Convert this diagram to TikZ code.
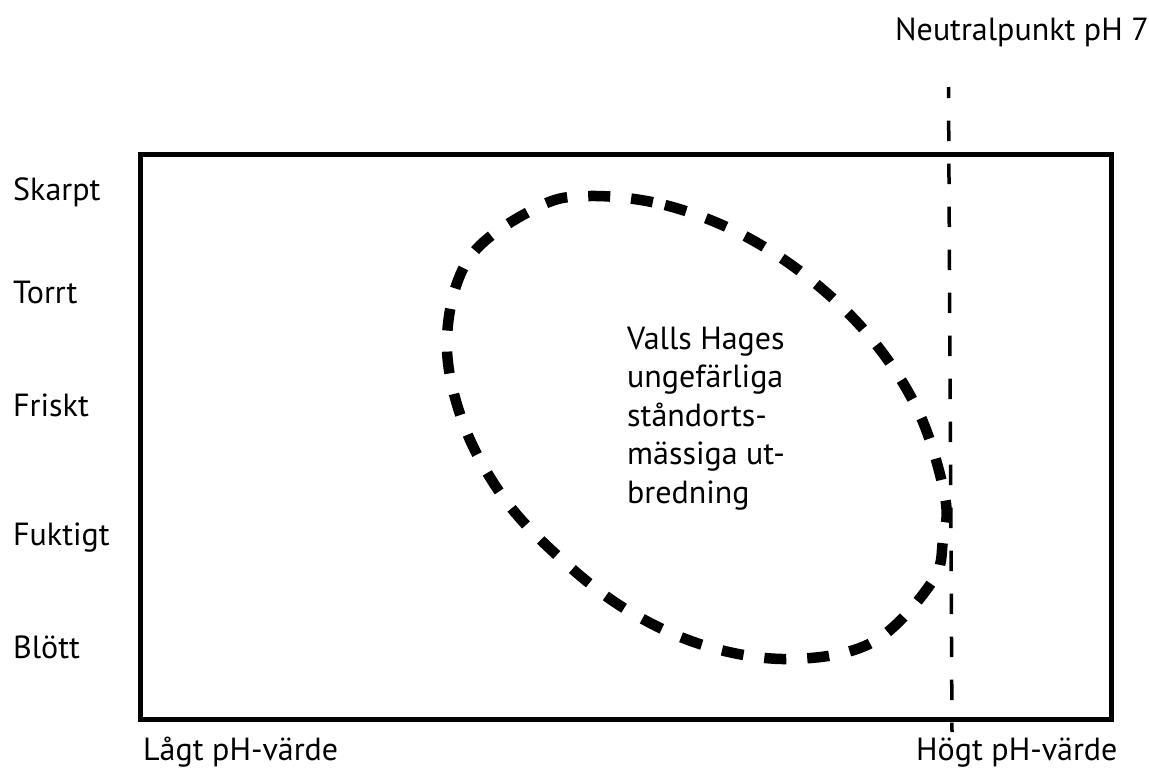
\documentclass[tikz,border=0pt]{standalone}
\usepackage{fontspec}
\setmainfont{PT Sans}
\begin{document}
\begin{tikzpicture}[x=1pt,y=-1pt,
  lbl/.style={anchor=base west,inner sep=0pt,font=\fontsize{32}{38.5}\selectfont},
  frame/.style={line width=5pt},
  neutral/.style={line width=3.5pt,dash pattern=on 20.5pt off 22.5pt,dash phase=9.3pt},
  region/.style={line width=10.5pt,dash pattern=on 22pt off 21pt}]
\useasboundingbox (0,0) rectangle (1149,769);
\draw[frame] (140.5,154) rectangle (1111,719);
\coordinate (ntop) at (948.5,87);
\coordinate (nbot) at (952,732);
\draw[neutral] (ntop) -- (nbot);
\draw[region] plot[smooth cycle,tension=0.6] coordinates {
 (590,196) (665,205) (743,235) (815,283) (875,343) (920,415) (945,497)
 (943,540) (932,582) (873,642) (791,659) (706,646) (627,610) (560,558)
 (503,497) (462,420) (447,337) (470,257) (538,207)};
\node[lbl] (skarpt) at (13,200) {Skarpt};
\node[lbl] (torrt) at (13,303) {Torrt};
\node[lbl] (friskt) at (13,416) {Friskt};
\node[lbl] (fuktigt) at (13,545) {Fuktigt};
\node[lbl] (blott) at (13,658) {Blött};
\node[lbl] (lagt) at (143,760) {Lågt pH-värde};
\node[lbl] (hogt) at (916,760) {Högt pH-värde};
\node[lbl] (neutral) at (895,40) {Neutralpunkt pH 7};
\node[lbl,align=left] (valls) at (627,503) {Valls Hages\\ungefärliga\\ståndorts-\\mässiga ut-\\bredning};
\end{tikzpicture}
\end{document}
